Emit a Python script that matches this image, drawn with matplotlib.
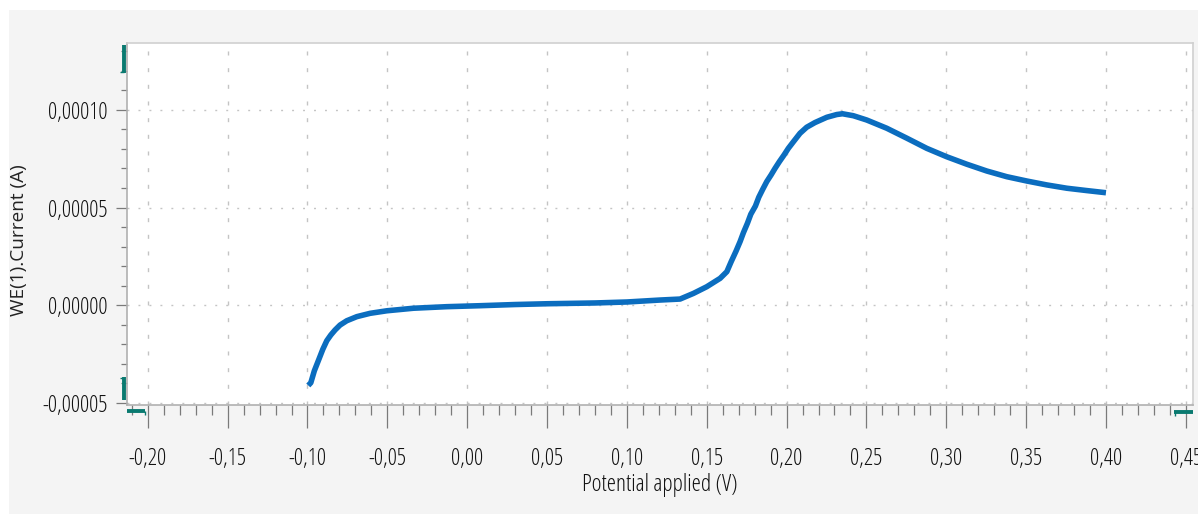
import matplotlib
matplotlib.use("Agg")
import matplotlib.pyplot as plt
from matplotlib.lines import Line2D
from matplotlib.patches import Rectangle
from matplotlib.ticker import MultipleLocator, FuncFormatter, FixedLocator

plt.rcParams['lines.scale_dashes'] = False

# Potential applied (V)
potential = [-0.0995, -0.0979, -0.0957, -0.0927, -0.0904, -0.0879, -0.0854, -0.0827,
             -0.0796, -0.0754, -0.0691, -0.0608, -0.0503, -0.0337, -0.0128, 0.0081,
             0.030, 0.050, 0.080, 0.100, 0.1208, 0.1333, 0.1417, 0.1500, 0.1584,
             0.1626, 0.1653, 0.1684, 0.1709, 0.1730, 0.1755, 0.1776, 0.1805, 0.1826,
             0.1851, 0.1876, 0.1903, 0.1928, 0.1955, 0.1984, 0.2011, 0.2043, 0.2084,
             0.2126, 0.2178, 0.2252, 0.2314, 0.2350, 0.2418, 0.2502, 0.2627, 0.2753,
             0.2878, 0.3003, 0.3128, 0.3254, 0.3379, 0.3504, 0.3629, 0.3755, 0.3880,
             0.4000]
# WE(1).Current (units of 1e-5 A)
current_e5 = [-4.10, -3.96, -3.35, -2.73, -2.25, -1.81, -1.52, -1.26,
              -1.01, -0.79, -0.58, -0.41, -0.28, -0.15, -0.07, -0.02,
              0.04, 0.08, 0.12, 0.17, 0.27, 0.32, 0.61, 0.95, 1.38,
              1.72, 2.23, 2.78, 3.26, 3.72, 4.20, 4.66, 5.08, 5.53,
              5.94, 6.33, 6.67, 7.01, 7.35, 7.69, 8.03, 8.37, 8.80,
              9.11, 9.35, 9.62, 9.76, 9.80, 9.70, 9.48, 9.06, 8.55,
              8.03, 7.60, 7.22, 6.87, 6.58, 6.36, 6.16, 5.99, 5.87,
              5.76]
current = [c * 1e-5 for c in current_e5]

x_major = [-0.20, -0.15, -0.10, -0.05, 0.00, 0.05, 0.10, 0.15, 0.20, 0.25, 0.30, 0.35, 0.40, 0.45]
y_major = [-0.00005, 0.0, 0.00005, 0.00010]
x_label = "Potential applied (V)"
y_label = "WE(1).Current (A)"

W, H = 1198, 514
FONT = ["Open Sans", "DejaVu Sans"]
STRETCH = "condensed"
TXT = "#111111"
LINE = "#0b6dbf"
TEAL = "#0a7a70"
GRID = "#c4c4c4"
TICK = "#7a7a7a"

fig = plt.figure(figsize=(W / 100, H / 100), dpi=100, facecolor="white")
fig.patches.append(Rectangle((9 / W, 0), 1, 1 - 10 / H, transform=fig.transFigure,
                             facecolor="#f4f4f4", edgecolor="none", zorder=-5))

def fx(px):
    return px / W

def fy(py):
    return 1 - py / H

ax = fig.add_axes([fx(126.7), fy(405), fx(1193) - fx(126.7), fy(43) - fy(405)])
ax.set_zorder(1)
ax.set_facecolor("white")
ax.set_xlim(-0.2132, 0.4545)
ax.set_ylim(-5.10e-5, 13.42e-5)

ax.plot(potential, current, color=LINE, lw=4.0, solid_capstyle="butt",
        solid_joinstyle="round", zorder=3)

ax.xaxis.set_major_locator(FixedLocator(x_major))
ax.xaxis.set_minor_locator(MultipleLocator(0.01))
ax.yaxis.set_major_locator(FixedLocator(y_major))
ax.yaxis.set_minor_locator(MultipleLocator(0.00001))

def xfmt(v, pos):
    s = f"{v:.2f}"
    if s == "-0.00":
        s = "0.00"
    return s.replace(".", ",")

def yfmt(v, pos):
    s = f"{v:.5f}"
    if s == "-0.00000":
        s = "0.00000"
    return s.replace(".", ",")

ax.xaxis.set_major_formatter(FuncFormatter(xfmt))
ax.yaxis.set_major_formatter(FuncFormatter(yfmt))

ax.tick_params(axis="x", which="major", direction="out", length=16.5, width=0.9,
               color=TICK, pad=14, labelsize=16.5, labelcolor=TXT)
ax.tick_params(axis="x", which="minor", direction="out", length=7.5, width=0.9, color=TICK)
ax.tick_params(axis="y", which="major", direction="out", length=8, width=0.9,
               color=TICK, pad=5.5, labelsize=16.5, labelcolor=TXT)
ax.tick_params(axis="y", which="minor", direction="out", length=4, width=0.9, color=TICK)
for lab in ax.get_xticklabels() + ax.get_yticklabels():
    lab.set_family(FONT)
    lab.set_fontstretch(STRETCH)
    lab.set_fontweight("medium")

for v in x_major:
    ax.axvline(v, color=GRID, lw=1.0, dashes=(2.9, 9.1), zorder=1)
for v in y_major:
    ax.axhline(v, color=GRID, lw=1.0, dashes=(1.4, 6.5), zorder=1)

ax.spines["left"].set_color("#b0b0b0")
ax.spines["bottom"].set_color("#b0b0b0")
ax.spines["top"].set_color("#d0d0d0")
ax.spines["right"].set_color("#d0d0d0")
for s in ax.spines.values():
    s.set_linewidth(1.2)

fig.text(fx(659.5), fy(485), x_label, ha="center", va="center", fontsize=16.9,
         color=TXT, family=FONT, fontstretch=STRETCH, fontweight="medium")
fig.text(fx(19), fy(240), y_label, ha="center", va="center", rotation=90, fontsize=13.7,
         color="#222222", family=FONT, fontweight="normal")

# teal range markers
def seg(x0, y0, x1, y1, lw):
    fig.add_artist(Line2D([fx(x0), fx(x1)], [fy(y0), fy(y1)], transform=fig.transFigure,
                          color=TEAL, lw=lw, solid_capstyle="butt", zorder=5))

seg(123.8, 45, 123.8, 73, 2.8)
seg(119.5, 72.5, 123.8, 72.5, 1.0)
seg(123.8, 377, 123.8, 400, 2.8)
seg(119.5, 377.5, 123.8, 377.5, 1.0)
seg(127, 411, 145, 411, 2.8)
seg(144.5, 411, 144.5, 415, 1.0)
seg(1174, 412, 1193, 412, 2.8)
seg(1174.5, 412, 1174.5, 416, 1.0)

fig.savefig("out.png", dpi=100, facecolor="white")
